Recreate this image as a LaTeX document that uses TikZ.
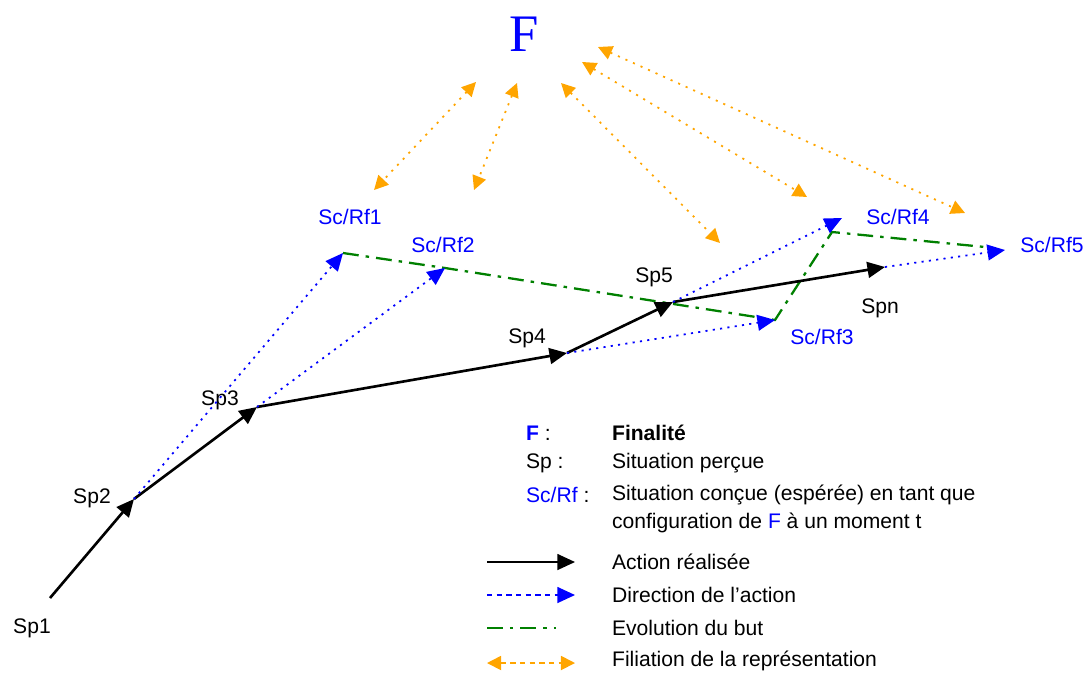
\documentclass[tikz,border=0pt]{standalone}
\usepackage{fontspec}
\setmainfont{Liberation Sans}
\newfontfamily\serifF{Liberation Serif}
\usetikzlibrary{arrows.meta}
\definecolor{finblue}{RGB}{0,0,255}
\definecolor{evogreen}{RGB}{0,128,0}
\definecolor{filorange}{RGB}{255,165,0}
\tikzset{
  act/.style = {-{Triangle[length=10pt,width=9pt]}, line width=1.5pt, black},
  dir/.style = {-{Triangle[length=10pt,width=9pt]}, line width=1pt, dash pattern=on 1.2pt off 3pt, finblue},
  evo/.style = {line width=1.3pt, dash pattern=on 9pt off 4pt on 2pt off 4pt, evogreen},
  fil/.style = {{Triangle[length=8pt,width=8pt]}-{Triangle[length=8pt,width=8pt]}, line width=1pt, dash pattern=on 1.2pt off 3.5pt, filorange},
  lbl/.style = {font=\fontsize{12}{14}\selectfont, inner sep=1pt},
  rflbl/.style = {lbl, text=finblue},
  leg/.style = {lbl, anchor=west},
}

\begin{document}
\begin{tikzpicture}[x=0.02cm, y=-0.02cm]
    \useasboundingbox (0,0) rectangle (1087,680);

    % Perceived situations
    \coordinate (sp1) at (50,598);
    \coordinate (sp2) at (134,499);
    \coordinate (sp3) at (257,407);
    \coordinate (sp4) at (567,353);
    \coordinate (sp5) at (673,302);
    \coordinate (spn) at (885,267);

    \node[lbl] (sp1l) at (32,628) {Sp1};
    \node[lbl] (sp2l) at (92,498) {Sp2};
    \node[lbl] (sp3l) at (220,400) {Sp3};
    \node[lbl] (sp4l) at (527,338) {Sp4};
    \node[lbl] (sp5l) at (654,277) {Sp5};
    \node[lbl] (spnl) at (880,308) {Spn};

    % Conceived situations
    \coordinate (rf1) at (343,253);
    \coordinate (rf2) at (445,268);
    \coordinate (rf3) at (775,320);
    \coordinate (rf4) at (842,218);
    \coordinate (rf5) at (1005,250);

    \node[rflbl] (rf1l) at (350,217) {Sc/Rf1};
    \node[rflbl] (rf2l) at (443,245) {Sc/Rf2};
    \node[rflbl] (rf3l) at (822,337) {Sc/Rf3};
    \node[rflbl] (rf4l) at (898,217) {Sc/Rf4};
    \node[rflbl] (rf5l) at (1052,245) {Sc/Rf5};

    % Finality
    \node[text=finblue, font=\serifF\fontsize{30}{32}\selectfont] (F) at (524,34) {F};
    \coordinate (f1) at (476,82);   \coordinate (o1) at (374,190);
    \coordinate (f2) at (517,83);   \coordinate (o2) at (474,190);
    \coordinate (f3) at (561,83);   \coordinate (o3) at (720,243);
    \coordinate (f4) at (582,62);   \coordinate (o4) at (807,197);
    \coordinate (f5) at (598,47);   \coordinate (o5) at (965,213);

    % Arrows
    \draw [evo] (rf1) -- (rf2) -- (rf3) -- ([shift={(-10,14)}]rf4) -- ([shift={(-20,-3)}]rf5);

    \draw [act] (sp1) -- (sp2);
    \draw [act] (sp2) -- (sp3);
    \draw [act] (sp3) -- (sp4);
    \draw [act] (sp4) -- (sp5);
    \draw [act] (sp5) -- (spn);

    \draw [dir] (sp2) -- (rf1);
    \draw [dir] (sp3) -- (rf2);
    \draw [dir] (sp4) -- (rf3);
    \draw [dir] (sp5) -- (rf4);
    \draw [dir] (spn) -- (rf5);

    \draw [fil] (f1) -- (o1);
    \draw [fil] (f2) -- (o2);
    \draw [fil] (f3) -- (o3);
    \draw [fil] (f4) -- (o4);
    \draw [fil] (f5) -- (o5);

    % Legend
    \node[leg] (kF) at (524,433) {\textcolor{finblue}{\textbf{F}} :};
    \node[leg] (vF) at (610,433) {\textbf{Finalité}};
    \node[leg] (kSp) at (524,463) {Sp :};
    \node[leg] (vSp) at (610,463) {Situation perçue};
    \node[leg] (kSc) at (524,495) {\textcolor{finblue}{Sc/Rf} :};
    \node[leg] (vSc) at (610,495) {Situation conçue (espérée) en tant que};
    \node[leg] (vSc2) at (610,523) {configuration de \textcolor{finblue}{F} à un moment t};

    \coordinate (la1) at (487,562); \coordinate (lb1) at (575,562);
    \coordinate (la2) at (487,595); \coordinate (lb2) at (575,595);
    \coordinate (la3) at (487,628); \coordinate (lb3) at (556,628);
    \coordinate (la4) at (487,663); \coordinate (lb4) at (575,663);

    \draw [act, line width=1pt] (la1) -- (lb1);
    \draw [dir, dash pattern=on 3pt off 2.5pt] (la2) -- (lb2);
    \draw [evo] (la3) -- (lb3);
    \draw [fil, dash pattern=on 3pt off 2.5pt] (la4) -- (lb4);

    \node[leg] (t1) at (610,562) {Action réalisée};
    \node[leg] (t2) at (610,595) {Direction de l'action};
    \node[leg] (t3) at (610,628) {Evolution du but};
    \node[leg] (t4) at (610,661) {Filiation de la représentation};

\end{tikzpicture}
\end{document}
